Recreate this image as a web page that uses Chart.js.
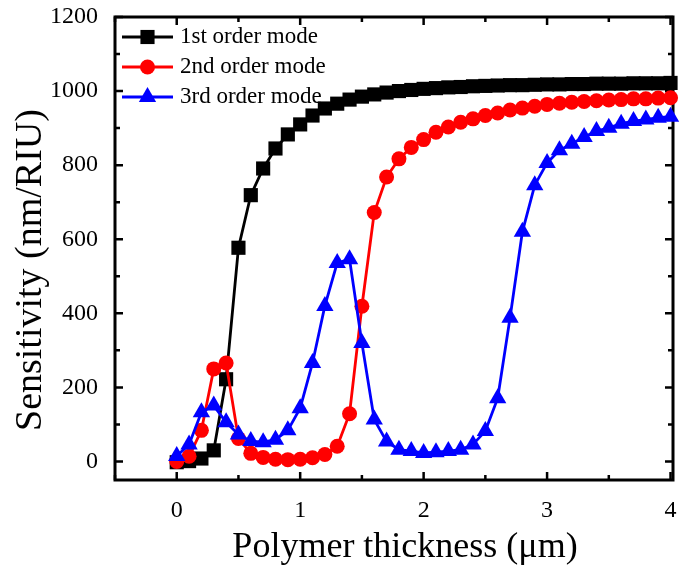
<!DOCTYPE html>
<html><head><meta charset="utf-8">
<script src="https://cdn.jsdelivr.net/npm/chart.js@4/dist/chart.umd.min.js"></script>
<style>html,body{margin:0;padding:0;background:#fff;}#wrap{width:683px;height:571px;}</style>
</head><body><div id="wrap"><canvas id="c" width="683" height="571"></canvas></div>
<script>
// ---- data ----
const thickness = [0,0.1,0.2,0.3,0.4,0.5,0.6,0.7,0.8,0.9,1.0,1.1,1.2,1.3,1.4,1.5,1.6,1.7,1.8,1.9,2.0,2.1,2.2,2.3,2.4,2.5,2.6,2.7,2.8,2.9,3.0,3.1,3.2,3.3,3.4,3.5,3.6,3.7,3.8,3.9,4.0];
const mode1 = [-2,1,8,30,222,577,719,791,845,883,910,934,953,966,977,985,991,996,1000,1003,1006,1008,1010,1011,1013,1014,1015,1016,1016,1017,1018,1018,1019,1019,1020,1020,1020,1021,1021,1021,1022];
const mode2 = [0,14,84,250,266,62,22,11,6,5,6,10,19,41,129,419,672,768,817,848,869,889,903,916,925,934,941,949,954,959,964,967,970,972,974,976,977,979,979,981,982];
const mode3 = [15,46,133,151,106,73,55,52,59,84,144,266,420,536,546,320,113,54,32,28,23,25,28,32,46,82,171,388,620,746,806,840,858,876,892,901,912,919,923,928,931];
const seriesNames = ['1st order mode','2nd order mode','3rd order mode'];
const xTitle = 'Polymer thickness (μm)';
const yTitle = 'Sensitivity (nm/RIU)';
const xTicks = [0,1,2,3,4];
const xMinorTicks = [-0.5,0.5,1.5,2.5,3.5];
const yTicks = [0,200,400,600,800,1000,1200];
const yMinorTicks = [100,300,500,700,900,1100];

const FONT = "'Liberation Serif','Times New Roman',serif";
const toXY = arr => thickness.map((x,i)=>({x:x, y:arr[i]}));

const styles = [
  {color:'#000000', pointStyle:'rect', radius:10, order:3},
  {color:'#ff0000', pointStyle:'circle', radius:7.5, order:2},
  {color:'#0000ff', pointStyle:'triangle', radius:10, order:1}
];
const seriesData = [mode1, mode2, mode3];

const datasets = seriesData.map((arr,i)=>({
  label: seriesNames[i],
  data: toXY(arr),
  borderColor: styles[i].color,
  backgroundColor: styles[i].color,
  borderWidth: 2.8,
  pointStyle: styles[i].pointStyle,
  pointRadius: styles[i].radius,
  pointBackgroundColor: styles[i].color,
  pointBorderColor: styles[i].color,
  pointBorderWidth: 0,
  tension: 0,
  clip: false,
  order: styles[i].order
}));

function drawMarker(ctx, style, r, x, y, color){
  ctx.save();
  ctx.fillStyle = color;
  ctx.beginPath();
  if (style === 'rect') {
    const s = Math.SQRT1_2 * r;
    ctx.rect(x - s, y - s, 2*s, 2*s);
  } else if (style === 'circle') {
    ctx.arc(x, y, r, 0, Math.PI*2);
  } else if (style === 'triangle') {
    let a = 0;
    ctx.moveTo(x + Math.sin(a)*r, y - Math.cos(a)*r);
    a += 2*Math.PI/3;
    ctx.lineTo(x + Math.sin(a)*r, y - Math.cos(a)*r);
    a += 2*Math.PI/3;
    ctx.lineTo(x + Math.sin(a)*r, y - Math.cos(a)*r);
    ctx.closePath();
  }
  ctx.fill();
  ctx.restore();
}

const frameTicks = {
  id: 'frameTicks',
  beforeDatasetsDraw(chart) {
    const {ctx, chartArea:a, scales:{x, y}} = chart;
    ctx.save();
    ctx.strokeStyle = '#000';
    ctx.lineWidth = 3;
    ctx.strokeRect(a.left, a.top, a.right - a.left, a.bottom - a.top);
    ctx.lineWidth = 2.5;
    ctx.lineCap = 'butt';
    const major = 8, minor = 5;
    const xt = (v, len) => {
      const px = x.getPixelForValue(v);
      ctx.beginPath();
      ctx.moveTo(px, a.bottom); ctx.lineTo(px, a.bottom - len);
      ctx.moveTo(px, a.top); ctx.lineTo(px, a.top + len);
      ctx.stroke();
    };
    const yt = (v, len) => {
      const py = y.getPixelForValue(v);
      ctx.beginPath();
      ctx.moveTo(a.left, py); ctx.lineTo(a.left + len, py);
      ctx.moveTo(a.right, py); ctx.lineTo(a.right - len, py);
      ctx.stroke();
    };
    xTicks.forEach(v => xt(v, major));
    xMinorTicks.forEach(v => xt(v, minor));
    yTicks.forEach(v => yt(v, major));
    yMinorTicks.forEach(v => yt(v, minor));

    // axis titles
    ctx.fillStyle = '#000';
    ctx.textAlign = 'center';
    ctx.textBaseline = 'middle';
    ctx.font = '36px ' + FONT;
    ctx.fillText(xTitle, 405, 548);
    ctx.save();
    ctx.translate(31, 270);
    ctx.rotate(-Math.PI / 2);
    ctx.font = '38px ' + FONT;
    ctx.fillText(yTitle, 0, 0);
    ctx.restore();
    ctx.restore();
  }
};

const customLegend = {
  id: 'customLegend',
  afterDatasetsDraw(chart) {
    const ctx = chart.ctx;
    const rows = [37, 67, 97];
    const x0 = 122, x1 = 173, tx = 180;
    ctx.save();
    chart.data.datasets.forEach((ds, i) => {
      const yy = rows[i];
      ctx.strokeStyle = ds.borderColor;
      ctx.lineWidth = ds.borderWidth;
      ctx.beginPath();
      ctx.moveTo(x0, yy); ctx.lineTo(x1, yy);
      ctx.stroke();
      drawMarker(ctx, ds.pointStyle, ds.pointRadius, (x0 + x1)/2, yy, ds.pointBackgroundColor);
      ctx.fillStyle = '#000';
      ctx.font = '23px ' + FONT;
      ctx.textAlign = 'left';
      ctx.textBaseline = 'middle';
      ctx.fillText(ds.label, tx, yy);
    });
    ctx.restore();
  }
};

new Chart(document.getElementById('c'), {
  type: 'line',
  data: { datasets },
  options: {
    responsive: false,
    devicePixelRatio: 1,
    animation: false,
    layout: { padding: { top: 17, right: 4, left: 0, bottom: 0 } },
    plugins: { legend: { display: false }, tooltip: { enabled: false } },
    scales: {
      x: {
        type: 'linear', min: -0.5, max: 4.02,
        afterBuildTicks: s => { s.ticks = xTicks.map(v => ({value: v})); },
        afterFit: s => { s.height = 91; s.paddingLeft = 0; s.paddingRight = 0; },
        grid: { display: false },
        border: { display: false },
        ticks: { font: { family: FONT, size: 24 }, color: '#000', padding: 8, maxRotation: 0, autoSkip: false,
                 callback: v => String(v) },
        title: { display: false }
      },
      y: {
        type: 'linear', min: -50, max: 1200,
        afterBuildTicks: s => { s.ticks = yTicks.map(v => ({value: v})); },
        afterFit: s => { s.width = 115; s.paddingTop = 0; s.paddingBottom = 0; },
        grid: { display: false },
        border: { display: false },
        ticks: { font: { family: FONT, size: 24 }, color: '#000', padding: 9, autoSkip: false,
                 callback: v => String(v) },
        title: { display: false }
      }
    }
  },
  plugins: [frameTicks, customLegend]
});
</script></body></html>
